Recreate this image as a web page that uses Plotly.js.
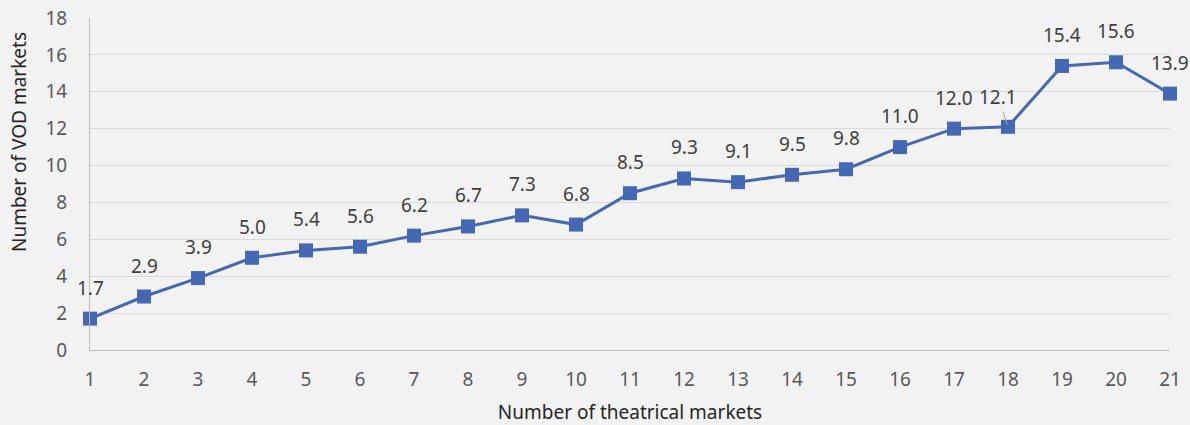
<!DOCTYPE html>
<html>
<head>
<meta charset="utf-8">
<script src="https://cdn.plot.ly/plotly-3.0.1.min.js"></script>
<style>
html,body{margin:0;padding:0;background:#f2f2f2;}
#chart{width:1190px;height:425px;}
</style>
</head>
<body>
<div id="chart"></div>
<script>
const theatricalMarkets = [1,2,3,4,5,6,7,8,9,10,11,12,13,14,15,16,17,18,19,20,21];
const vodMarkets = [1.7,2.9,3.9,5.0,5.4,5.6,6.2,6.7,7.3,6.8,8.5,9.3,9.1,9.5,9.8,11.0,12.0,12.1,15.4,15.6,13.9];
const yTicks = [0,2,4,6,8,10,12,14,16,18];

const FONT = '"Noto Sans", "Open Sans", sans-serif';
const TXT = '#595959';
const FS = 19;

const trace = {
  x: theatricalMarkets,
  y: vodMarkets,
  type: 'scatter',
  mode: 'lines+markers',
  line: {color: '#4468B4', width: 3},
  marker: {symbol: 'square', size: 14, color: '#4468B4'},
  hoverinfo: 'skip',
  cliponaxis: false
};

const annotations = theatricalMarkets.map((x, i) => {
  const a = {
    x: x, y: vodMarkets[i], xref: 'x', yref: 'y',
    text: vodMarkets[i].toFixed(1),
    showarrow: false, yshift: 31,
    font: {family: FONT, size: FS, color: '#404040'}
  };
  if (i === 17) {
    a.showarrow = true; a.arrowhead = 0; a.arrowwidth = 1; a.arrowcolor = '#a6a6a6';
    a.ax = -10; a.ay = -30; a.yshift = 0; a.standoff = 2;
  }
  return a;
});
annotations.push({
  xref: 'paper', yref: 'paper', x: -0.0657, y: 0.6265,
  text: 'Number of VOD markets', textangle: -90, showarrow: false,
  xanchor: 'center', yanchor: 'middle',
  font: {family: FONT, size: FS, color: '#262626'}
});

const layout = {
  width: 1190, height: 425,
  paper_bgcolor: '#f2f2f2', plot_bgcolor: '#f2f2f2',
  margin: {l: 90, r: 20, t: 18, b: 75},
  showlegend: false,
  font: {family: FONT, size: FS, color: TXT},
  xaxis: {
    range: [1, 21], tickmode: 'array', tickvals: theatricalMarkets,
    showgrid: false, zeroline: false,
    showline: true, linecolor: '#bfbfbf', linewidth: 1,
    ticks: '', ticklabelstandoff: 12,
    tickfont: {family: FONT, size: FS, color: TXT},
    title: {text: 'Number of theatrical markets', standoff: 14, font: {family: FONT, size: FS, color: '#262626'}}
  },
  yaxis: {
    range: [0, 18], tickmode: 'array', tickvals: yTicks,
    showgrid: true, gridcolor: '#d9d9d9', gridwidth: 1,
    zeroline: false, showline: true, linecolor: '#bfbfbf', linewidth: 1,
    ticks: '', ticklabelstandoff: 18,
    tickfont: {family: FONT, size: FS, color: TXT}
  },
  annotations: annotations
};

Plotly.newPlot('chart', [trace], layout, {displayModeBar: false, staticPlot: true});
</script>
</body>
</html>
